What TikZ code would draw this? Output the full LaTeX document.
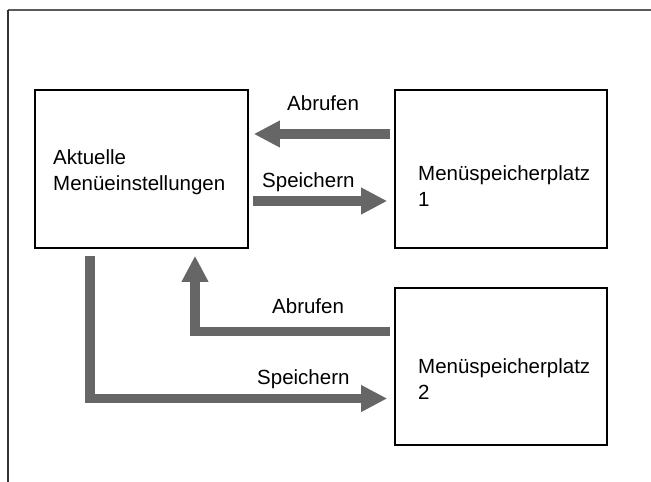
\documentclass[tikz,border=0pt]{standalone}
\usepackage{fontspec}
\setmainfont{Liberation Sans}
\usetikzlibrary{arrows.meta,calc}
\definecolor{arrowgray}{HTML}{666666}
\definecolor{frametop}{HTML}{5A5A5A}
\definecolor{frameleft}{HTML}{333333}
\tikzset{
  box/.style={draw=black, line width=1.6pt, rectangle, inner sep=0pt},
  boxtext/.style={anchor=north west, inner sep=0pt, align=left, font=\fontsize{20.5}{26}\selectfont},
  lbl/.style={anchor=base west, inner sep=0pt, font=\fontsize{20.5}{26}\selectfont},
  bigarrow/.style={draw=arrowgray, line width=9.5pt, line join=miter,
    -{Triangle[length=26pt,width=25pt]}}
}
\begin{document}
\begin{tikzpicture}[x=1pt,y=-1pt]
\useasboundingbox (0,0) rectangle (651,482);
% frame
\draw[frametop, line width=1.5pt] (7.5,10) -- (651,10);
\draw[frameleft, line width=1.5pt] (8,9.5) -- (8,482);
% boxes
\node[box, minimum width=213pt, minimum height=158pt] (akt) at (141.5,169) {};
\node[box, minimum width=212pt, minimum height=158pt] (m1) at (501,169) {};
\node[box, minimum width=212pt, minimum height=157pt] (m2) at (501,366.5) {};
% box texts
\node[boxtext] (taky) at (53,149) {Aktuelle\\Menüeinstellungen};
\node[boxtext] (tm1) at (418,165) {Menüspeicherplatz\\1};
\node[boxtext] (tm2) at (418,358) {Menüspeicherplatz\\2};
% labels
\node[lbl] (l1) at (287,110) {Abrufen};
\node[lbl] (l2) at (262,187) {Speichern};
\node[lbl] (l3) at (272,313) {Abrufen};
\node[lbl] (l4) at (257,384) {Speichern};
% arrows
\draw[bigarrow] ([xshift=-4pt,yshift=35pt]m1.west) -- ([xshift=5pt,yshift=35pt]akt.east);
\draw[bigarrow] ([xshift=4pt,yshift=-32pt]akt.east) -- ([xshift=-7pt,yshift=-32pt]m1.west);
\draw[bigarrow] ([xshift=-4pt,yshift=35pt]m2.west) -| ([xshift=53.5pt,yshift=-7pt]akt.south);
\draw[bigarrow] ([xshift=-51.5pt,yshift=-7pt]akt.south) |- ([xshift=-7pt,yshift=-32pt]m2.west);
\end{tikzpicture}
\end{document}
